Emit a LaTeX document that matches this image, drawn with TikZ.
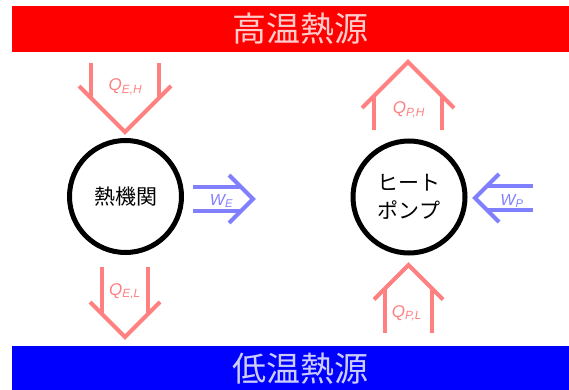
\documentclass[tikz,border=0pt]{standalone}
\usepackage{fontspec}
\setsansfont{Liberation Sans}
\newfontfamily\jp{Noto Sans CJK JP}
\definecolor{salmon}{HTML}{FF8080}
\definecolor{lblue}{HTML}{8080FF}
\definecolor{hottext}{HTML}{FFCCCC}
\definecolor{coldtext}{HTML}{CCCCFF}
\begin{document}
\begin{tikzpicture}[x=1pt,y=-1pt,
  qarrow/.style={draw=salmon, line width=4pt},
  warrow/.style={draw=lblue, line width=4pt},
  qlabel/.style={text=salmon, font=\sffamily\itshape\fontsize{17}{17}\selectfont, anchor=base, inner sep=0pt},
  wlabel/.style={text=lblue, font=\sffamily\itshape\fontsize{16}{16}\selectfont, anchor=base, inner sep=0pt},
  engine/.style={circle, draw=black, line width=5pt, minimum size=112pt, inner sep=0pt, font=\jp\fontsize{21}{28}\selectfont, align=center},
  bartext/.style={font=\jp\fontsize{34}{34}\selectfont, inner sep=0pt}]
\useasboundingbox (0,0) rectangle (569,390);
% reservoirs
\fill[red] (12,6) rectangle (569,52);
\node[bartext, text=hottext] (hot) at (300.5,29) {高温熱源};
\fill[blue] (12,346) rectangle (569,390);
\node[bartext, text=coldtext] (cold) at (300.5,369) {低温熱源};
% engines
\node[engine] (eng) at (125.5,196.5) {熱機関};
\node[engine] (hp) at (409,197) {ヒート\\ポンプ};
% Q_E,H (down)
\draw[qarrow] (91,63) -- (91,98) (159,63) -- (159,98);
\draw[qarrow] (79,86) -- (125,132) -- (171,86);
\node[qlabel] (qeh) at (125.5,91) {Q\textsubscript{E,H}};
% Q_E,L (down)
\draw[qarrow] (102,267) -- (102,314) (148,267) -- (148,314);
\draw[qarrow] (90,302) -- (125,337) -- (160,302);
\node[qlabel] (qel) at (125,295) {Q\textsubscript{E,L}};
% Q_P,H (up)
\draw[qarrow] (374,130) -- (374,96) (442,130) -- (442,96);
\draw[qarrow] (362,108) -- (408,62) -- (454,108);
\node[qlabel] (qph) at (409,114) {Q\textsubscript{P,H}};
% Q_P,L (up)
\draw[qarrow] (385,333) -- (385,288.5) (432,333) -- (432,288.5);
\draw[qarrow] (374,299.5) -- (408.5,265) -- (443,299.5);
\node[qlabel] (qpl) at (407,317) {Q\textsubscript{P,L}};
% W_E (right)
\draw[warrow] (193,187) -- (241,187) (193,211) -- (241,211);
\draw[warrow] (229,175) -- (253,199) -- (229,223);
\node[wlabel] (we) at (221.5,205) {W\textsubscript{E}};
% W_P (left)
\draw[warrow] (533,186) -- (487,186) (533,210) -- (487,210);
\draw[warrow] (499,174) -- (475,198) -- (499,222);
\node[wlabel] (wp) at (512,205) {W\textsubscript{P}};
\end{tikzpicture}
\end{document}
